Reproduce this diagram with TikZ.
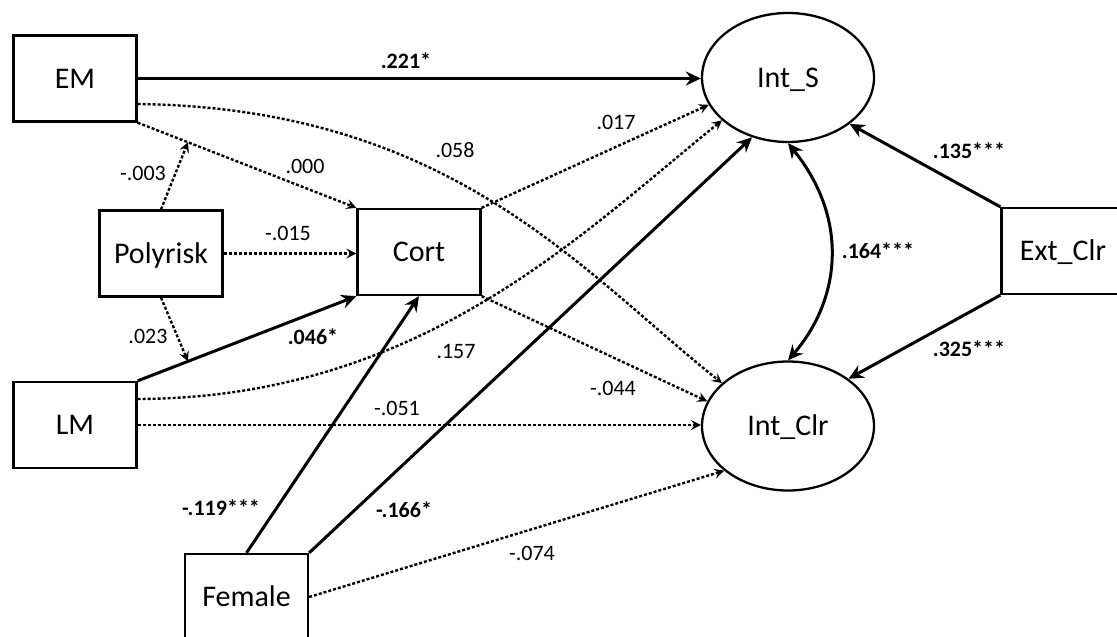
\documentclass[tikz,border=0pt]{standalone}
\usepackage{fontspec}
\setmainfont{Carlito}
\usetikzlibrary{arrows.meta,shapes.geometric,calc}

\begin{document}
\begin{tikzpicture}[x=1pt,y=-1pt,
  box/.style={draw, line width=2.3pt, rectangle, minimum width=123pt, minimum height=86pt,
    inner sep=0pt, text height=19pt, text depth=0pt, font=\fontsize{30}{36}\selectfont},
  latent/.style={draw, ellipse, line width=2.3pt, minimum width=172pt, minimum height=129pt,
    inner sep=0pt, text height=19pt, text depth=0pt, font=\fontsize{30}{36}\selectfont},
  sig/.style={line width=3pt, -{Stealth[length=15pt,width=14pt,inset=5pt]}},
  bidir/.style={line width=3pt, {Stealth[length=15pt,width=14pt,inset=5pt]}-{Stealth[length=15pt,width=14pt,inset=5pt]}},
  ns/.style={line width=2.4pt, dash pattern=on 3pt off 2pt, -{Stealth[length=10pt,width=10pt,inset=4pt]}},
  coef/.style={inner sep=0pt, font=\fontsize{22}{26}\selectfont},
  coefb/.style={inner sep=0pt, font=\fontsize{22}{26}\selectfont\bfseries}]

\useasboundingbox (0,0) rectangle (1117,637);
\clip (0,0) rectangle (1117,637);

% observed variables
\node[box] (EM)   at (75,78.5)   {EM};
\node[box] (Poly) at (161,253.5) {Polyrisk};
\node[box] (Cort) at (419,252)   {Cort};
\node[box] (LM)   at (75,425)    {LM};
\node[box] (Fem)  at (246.5,597) {Female};
\node[box] (Ext)  at (1063,251)  {Ext\_Clr};

% latent outcomes
\node[latent] (IntS) at (788,77.5) {Int\_S};
\node[latent] (IntC) at (788,426)  {Int\_Clr};

% paths from EM
\draw[sig] (EM.east) -- (EM.east -| IntS.west);
\draw[ns] (EM.south east) -- (Cort.north west);
\draw[ns] ($(EM.east)+(0,25.5)$) .. controls (450,108) and (580,270) .. (IntC.147);

% moderation by Polyrisk
\coordinate (pe) at ($(EM.south east)!0.23!(Cort.north west)$);
\coordinate (pl) at ($(LM.north east)!0.23!(Cort.south west)$);
\draw[ns] (Poly.north) -- (pe);
\draw[ns] (Poly.south) -- (pl);
\draw[ns] (Poly.east) -- (Poly.east -| Cort.west);

% paths from LM
\draw[sig] (LM.north east) -- (Cort.south west);
\draw[ns] (LM.east) -- (LM.east -| IntC.west);
\draw[ns] ($(LM.east)+(0,-26)$) .. controls (420,398) and (580,235) .. (IntS.-147);

% paths from Cort
\draw[ns] (Cort.north east) -- (IntS.-161);
\draw[ns] (Cort.south east) -- (IntC.163);

% paths from Female
\draw[sig] (Fem.north) -- (Cort.south);
\draw[sig] (Fem.north east) -- (IntS.-121);
\draw[ns] (Fem.east) -- (IntC.215);

% paths from Ext_Clr
\draw[sig] (Ext.north west) -- (IntS.-37);
\draw[sig] (Ext.south west) -- (IntC.38);

% residual covariance
\draw[bidir] (IntS.south) .. controls (850,220) and (840,300) .. (IntC.north);

% coefficients
\node[coefb] at (406,61)  {.221*};
\node[coef]  at (305,166) {.000};
\node[coef]  at (143,173) {-.003};
\node[coef]  at (288,233) {-.015};
\node[coef]  at (148,336) {.023};
\node[coefb] at (313,337) {.046*};
\node[coef]  at (455,150) {.058};
\node[coef]  at (616,122) {.017};
\node[coef]  at (456,352) {.157};
\node[coef]  at (397,408) {-.051};
\node[coef]  at (613,388) {-.044};
\node[coefb] at (221,508) {-.119***};
\node[coefb] at (404,510) {-.166*};
\node[coef]  at (532,553) {-.074};
\node[coefb] at (969,151) {.135***};
\node[coefb] at (969,349) {.325***};
\node[coefb] at (878,251) {.164***};
\end{tikzpicture}
\end{document}
